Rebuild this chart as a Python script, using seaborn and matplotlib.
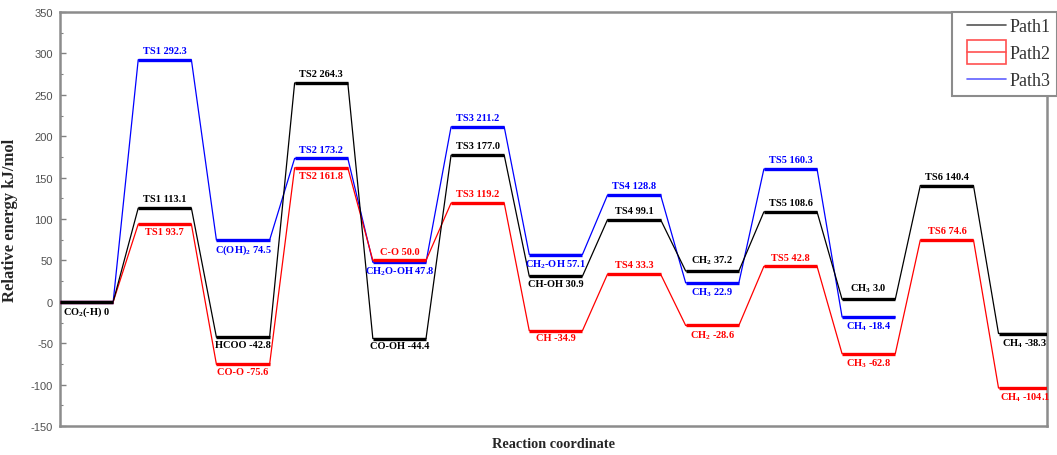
import matplotlib
matplotlib.use("Agg")
import matplotlib.pyplot as plt
from matplotlib.lines import Line2D
from matplotlib.patches import Rectangle
from matplotlib.legend_handler import HandlerTuple, HandlerPatch, HandlerLine2D
from matplotlib.ticker import MultipleLocator
from matplotlib.font_manager import FontProperties
import pandas as pd
import seaborn as sns

# Relative energies (kJ/mol) along the reaction coordinate for each pathway
path1_energy = [0.0, 113.1, -42.8, 264.3, -44.4, 177.0, 30.9, 99.1, 37.2, 108.6, 3.0, 140.4, -38.3]
path2_energy = [0.0, 93.7, -75.6, 161.8, 50.0, 119.2, -34.9, 33.3, -28.6, 42.8, -62.8, 74.6, -104.1]
path3_energy = [0.0, 292.3, 74.5, 173.2, 47.8, 211.2, 57.1, 128.8, 22.9, 160.3, -18.4]

# State labels and whether each sits above ("a") or below ("b") its level
path1_labels = ["CO$_2$(-H) 0", "TS1 113.1", "HCOO -42.8", "TS2 264.3", "CO-OH -44.4",
                "TS3 177.0", "CH-OH 30.9", "TS4 99.1", "CH$_2$ 37.2", "TS5 108.6",
                "CH$_3$ 3.0", "TS6 140.4", "CH$_4$ -38.3"]
path1_side = ["b", "a", "b", "a", "b", "a", "b", "a", "a", "a", "a", "a", "b"]

path2_labels = [None, "TS1 93.7", "CO-O -75.6", "TS2 161.8", "C-O 50.0", "TS3 119.2",
                "CH -34.9", "TS4 33.3", "CH$_2$ -28.6", "TS5 42.8", "CH$_3$ -62.8",
                "TS6 74.6", "CH$_4$ -104.1"]
path2_side = ["b", "b", "b", "b", "a", "a", "b", "a", "b", "a", "b", "a", "b"]

path3_labels = [None, "TS1 292.3", "C(OH)$_2$ 74.5", "TS2 173.2", "CH$_2$O-OH 47.8",
                "TS3 211.2", "CH$_2$-OH 57.1", "TS4 128.8", "CH$_3$ 22.9", "TS5 160.3",
                "CH$_4$ -18.4"]
path3_side = ["b", "a", "b", "a", "b", "a", "b", "a", "b", "a", "b"]

path_names = ["Path1", "Path2", "Path3"]
path_colors = {"Path1": "#000000", "Path2": "#ff0000", "Path3": "#0000ff"}

LEVEL_W = 0.68  # width of each energy level in step units

sns.set_theme(style="white")
plt.rcParams["font.family"] = ["Liberation Serif", "DejaVu Serif"]
plt.rcParams["axes.unicode_minus"] = False
plt.rcParams["mathtext.fontset"] = "custom"
plt.rcParams["mathtext.rm"] = "Liberation Serif:bold"
plt.rcParams["mathtext.it"] = "Liberation Serif:italic:bold"
plt.rcParams["mathtext.bf"] = "Liberation Serif:bold"

series = {
    "Path1": (path1_energy, path1_labels, path1_side),
    "Path2": (path2_energy, path2_labels, path2_side),
    "Path3": (path3_energy, path3_labels, path3_side),
}

rows = []
for name, (energy, _, _) in series.items():
    k = 0
    for i, e in enumerate(energy):
        rows.append({"path": name, "step": i, "order": k, "x": i, "energy": e}); k += 1
        rows.append({"path": name, "step": i, "order": k, "x": i + LEVEL_W, "energy": e}); k += 1
df = pd.DataFrame(rows)

fig = plt.figure(figsize=(10.57, 4.56), dpi=100)
ax = fig.add_axes([60 / 1057, 1 - 427 / 456, 987 / 1057, 414 / 456])

draw_order = ["Path3", "Path2", "Path1"]
sns.lineplot(data=df, x="x", y="energy", hue="path", hue_order=draw_order,
             palette=path_colors, estimator=None, sort=False, lw=0.9,
             legend=False, ax=ax)

for z, name in enumerate(draw_order):
    energy, labels, sides = series[name]
    sub = df[df["path"] == name]
    starts = sub[sub["order"] % 2 == 0]
    ax.hlines(starts["energy"], starts["x"], starts["x"] + LEVEL_W,
              color=path_colors[name], lw=2.4, zorder=3 + z)
    for i, (e, lab, side) in enumerate(zip(energy, labels, sides)):
        if lab is None:
            continue
        up = side == "a"
        ax.annotate(lab, xy=(i + LEVEL_W / 2, e), xytext=(0, 3.5 if up else -2.0),
                    textcoords="offset points", ha="center",
                    va="bottom" if up else "top", color=path_colors[name],
                    family="Liberation Serif", weight="bold", size=7.5, zorder=6)

ax.set_xlim(0, 12.62)
ax.set_ylim(-150, 350)
ax.set_yticks(range(-150, 351, 50))
ax.yaxis.set_minor_locator(MultipleLocator(25))
ax.set_xticks([])
ax.tick_params(axis="y", which="major", direction="in", length=4, width=1,
               color="#808080", labelsize=8, labelcolor="#505050", pad=5, left=True)
ax.tick_params(axis="y", which="minor", direction="in", length=2.5, width=0.8,
               color="#808080", left=True)
for lab in ax.get_yticklabels():
    lab.set_fontfamily("Liberation Sans")
for sp in ax.spines.values():
    sp.set_visible(True)
    sp.set_color("#8c8c8c")
    sp.set_linewidth(1.8)

ax.set_xlabel("Reaction coordinate", fontsize=10.3, fontweight="bold", labelpad=8)
ax.set_ylabel("Relative energy kJ/mol", fontsize=12, fontweight="bold")
ax.yaxis.set_label_coords(-0.043, 0.5)


def tall_box(legend, orig_handle, xdescent, ydescent, width, height, fontsize):
    extra = 0.45 * height
    return Rectangle((-xdescent, -ydescent - extra), width, height + 2 * extra)


HANDLE_PAD = 0.45  # blank space before each legend key, in font-size units

handles = [
    Line2D([], [], color="#555555", lw=1.2),
    (Rectangle((0, 0), 1, 1, facecolor="none", edgecolor="#ff5050", lw=1.2),
     Line2D([], [], color="#ff5050", lw=1.2)),
    Line2D([], [], color="#6060ff", lw=1.2),
]
leg = ax.legend(handles, path_names, loc="upper left", bbox_to_anchor=(0.904, 1.0),
                borderaxespad=0, frameon=True, fancybox=False, framealpha=1,
                edgecolor="#8c8c8c", prop=FontProperties(family="Liberation Serif", size=13),
                handlelength=2.2 + HANDLE_PAD, handletextpad=0.15, labelspacing=0.55,
                borderpad=0.35,
                handler_map={Line2D: HandlerLine2D(xpad=HANDLE_PAD),
                             tuple: HandlerTuple(ndivide=1, pad=0, xpad=HANDLE_PAD),
                             Rectangle: HandlerPatch(patch_func=tall_box)})
leg.get_frame().set_linewidth(1.5)
for t in leg.get_texts():
    t.set_color("#333333")

fig.savefig("out.png", dpi=100)
